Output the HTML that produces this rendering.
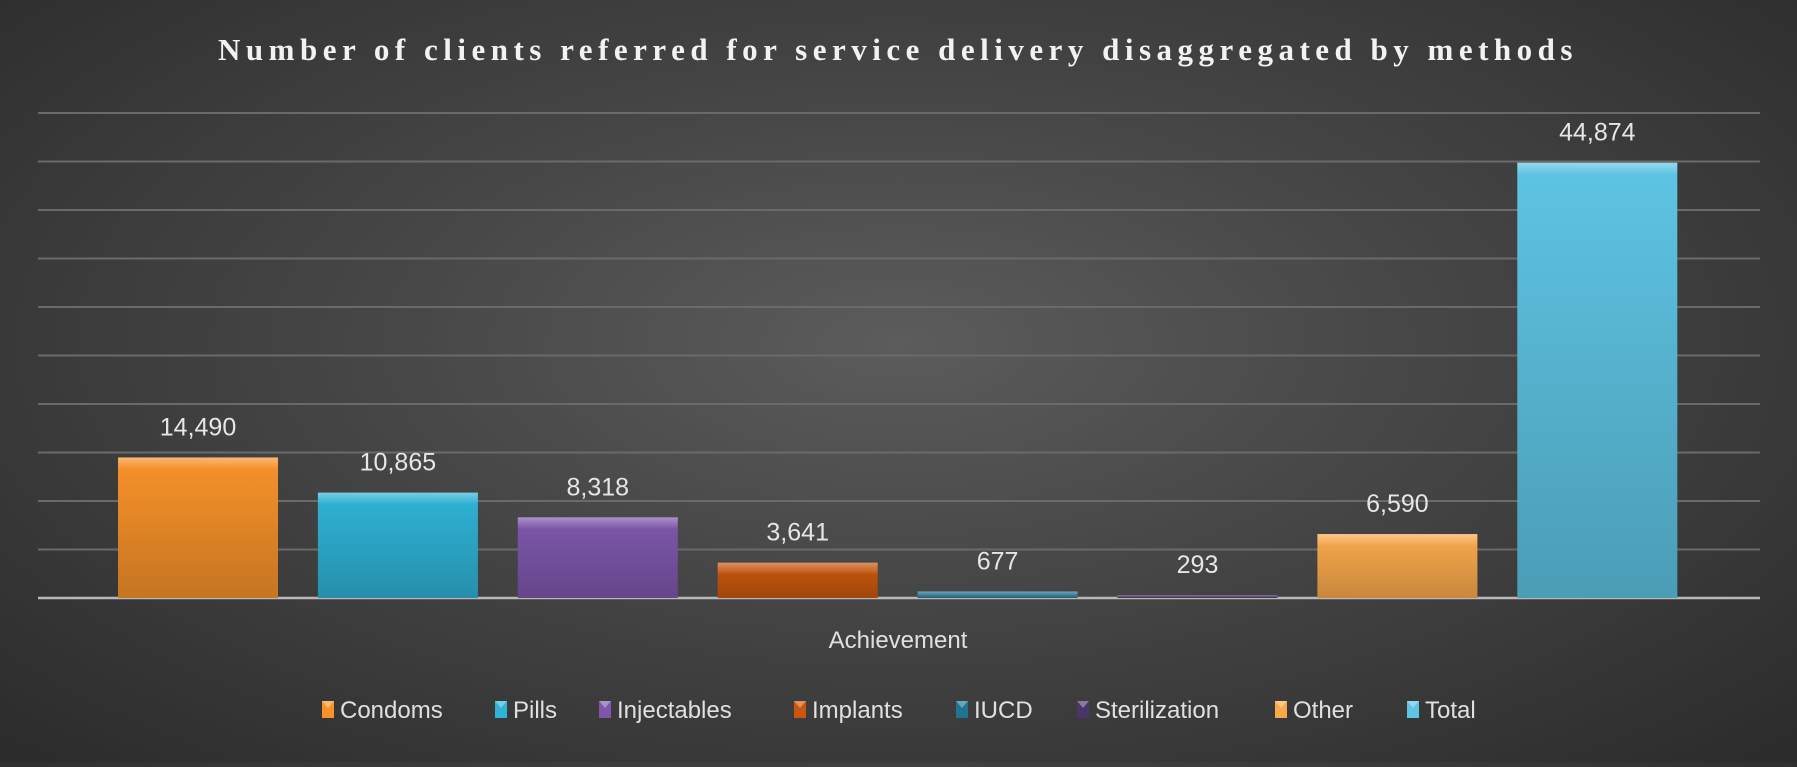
<!DOCTYPE html>
<html><head><meta charset="utf-8"><style>
html,body{margin:0;padding:0}
body{width:1797px;height:762px;overflow:hidden;background:radial-gradient(ellipse at 50% 45%,#5c5c5c 0%,#474747 40%,#2b2b2b 100%);font-family:"Liberation Sans",sans-serif}
</style></head><body>
<svg id="chart" width="1797" height="762" xmlns="http://www.w3.org/2000/svg">
<defs>
<linearGradient id="bev" x1="0" y1="0" x2="0" y2="1"><stop offset="0" stop-color="#fff" stop-opacity="0.35"/><stop offset="1" stop-color="#fff" stop-opacity="0"/></linearGradient>
<linearGradient id="shade" x1="0" y1="0" x2="0" y2="1"><stop offset="0" stop-color="#000" stop-opacity="0"/><stop offset="1" stop-color="#000" stop-opacity="0.2"/></linearGradient>
</defs>
<text x="898" y="60" text-anchor="middle" fill="#f2f2f2" font-family="'Liberation Serif',serif" font-weight="bold" font-size="31" letter-spacing="5.5">Number of clients referred for service delivery disaggregated by methods</text>
<g id="grid"></g><g id="bars"></g>
<text x="898" y="648" text-anchor="middle" fill="#e0e0e0" font-size="24">Achievement</text>
<g id="legend"></g>
</svg>
<script>
const categories=["Condoms","Pills","Injectables","Implants","IUCD","Sterilization","Other","Total"];
const values=[14490,10865,8318,3641,677,293,6590,44874];
const labels=["14,490","10,865","8,318","3,641","677","293","6,590","44,874"];
const colors=["#f7922a","#2fb3d6","#7e57ad","#c9570e","#1f7590","#4a3468","#f9a94c","#5ec4e3"];
const yMax=50000,yStep=5000;
const NS="http://www.w3.org/2000/svg";
const L=38,R=1760,base=598,yTop=113;
function y(v){return base-(v/yMax)*(base-yTop);}
function x(i){return 198+i*199.9;}
function mk(t,a,p){const e=document.createElementNS(NS,t);for(const k in a)e.setAttribute(k,a[k]);p.appendChild(e);return e;}
const g=document.getElementById('grid');
for(let v=yStep;v<=yMax;v+=yStep){const l=mk('line',{x1:L,x2:R,y1:y(v),y2:y(v),stroke:'#6a6a6a','stroke-width':2},g);

}
const ax=mk('line',{x1:L,x2:R,y1:base,y2:base,stroke:'#b8b8b8','stroke-width':2.5},g);


const b=document.getElementById('bars');
const w=160;
values.forEach((v,i)=>{const yy=y(v),h=base-yy;
const r=mk('rect',{x:x(i)-w/2,y:yy,width:w,height:h,fill:colors[i]},b);


mk('rect',{x:x(i)-w/2,y:yy,width:w,height:h,fill:'url(#shade)'},b);
mk('rect',{x:x(i)-w/2,y:yy,width:w,height:Math.min(12,h),fill:'url(#bev)'},b);
const t=mk('text',{x:x(i),y:yy-22,'text-anchor':'middle',fill:'#e6e6e6','font-size':25},b);
t.textContent=labels[i];

});
const lg=document.getElementById('legend');
const lx=[322,495,599,794,956,1077,1275,1407];
categories.forEach((c,i)=>{const grp=mk('g',{},lg);


mk('rect',{x:lx[i],y:701,width:12,height:17,fill:colors[i]},grp);
mk('path',{d:`M${lx[i]} 701 h12 l-6 7 z`,fill:'#fff','fill-opacity':0.35},grp);
const t=mk('text',{x:lx[i]+18,y:718,fill:'#e0e0e0','font-size':24},grp);t.textContent=c;});
</script>
</body></html>
